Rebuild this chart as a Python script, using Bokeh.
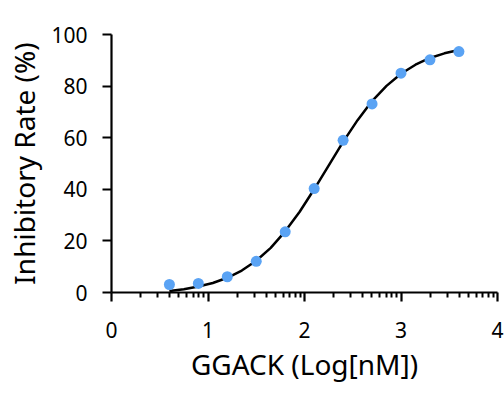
import math
from bokeh.plotting import figure
from bokeh.models import Range1d, FixedTicker
from bokeh.embed import file_html
from bokeh.resources import INLINE

# Data
log_conc = [0.6, 0.9, 1.2, 1.5, 1.8, 2.1, 2.4, 2.7, 3.0, 3.3, 3.6]
inhibition = [3.1, 3.5, 6.1, 12.1, 23.5, 40.3, 59.0, 73.1, 85.0, 90.2, 93.4]

# Fitted curve
curve_x = [0.6, 0.75, 0.9, 1.05, 1.2, 1.35, 1.5, 1.65, 1.8, 1.95, 2.1,
           2.25, 2.4, 2.55, 2.7, 2.85, 3.0, 3.15, 3.3, 3.45, 3.6]
curve_y = [0.55, 1.25, 2.3, 3.7, 5.7, 8.5, 12.3, 17.3, 23.7, 31.3, 40.0,
           49.2, 58.4, 66.8, 74.2, 80.1, 84.8, 88.3, 90.9, 92.7, 94.0]

x_ticks = [0, 1, 2, 3, 4]
y_ticks = [0, 20, 40, 60, 80, 100]
x_label = "GGACK (Log[nM])"
y_label = "Inhibitory Rate (%)"

FONT = "Noto Sans"
DOT = "#5aa3f4"

p = figure(width=504, height=393, output_backend="svg", toolbar_location=None,
           x_range=Range1d(0, 4), y_range=Range1d(0, 100),
           min_border_left=111, min_border_right=7, min_border_top=34,
           min_border_bottom=101)
p.outline_line_color = None
p.xgrid.grid_line_color = None
p.ygrid.grid_line_color = None
p.background_fill_color = "white"
p.border_fill_color = "white"

minor = [d + math.log10(k) for d in range(0, 4) for k in range(2, 10)]
p.xaxis.ticker = FixedTicker(ticks=x_ticks, minor_ticks=minor)
p.yaxis.ticker = FixedTicker(ticks=y_ticks)

for ax in (p.xaxis, p.yaxis):
    ax.axis_line_width = 2.2
    ax.axis_line_color = "black"
    ax.major_tick_line_width = 2.2
    ax.major_tick_line_color = "black"
    ax.major_tick_out = 9
    ax.major_tick_in = 0
    ax.minor_tick_line_width = 2
    ax.minor_tick_line_color = "black"
    ax.minor_tick_out = 5
    ax.minor_tick_in = 0
    ax.major_label_text_font = FONT
    ax.major_label_text_font_size = "21px"
    ax.major_label_text_color = "black"
    ax.axis_label_text_font = FONT
    ax.axis_label_text_font_size = "28px"
    ax.axis_label_text_font_style = "normal"
    ax.axis_label_text_color = "black"

p.yaxis.minor_tick_line_color = None
p.xaxis.axis_label = x_label
p.yaxis.axis_label = y_label
p.xaxis.major_label_standoff = 20
p.yaxis.major_label_standoff = 15
p.xaxis.axis_label_standoff = 4
p.yaxis.axis_label_standoff = 5

p.line(curve_x, curve_y, line_color="black", line_width=2.5)
p.scatter(log_conc, inhibition, size=11, fill_color=DOT, line_color=None)

open("out.html", "w").write(file_html(p, INLINE))
